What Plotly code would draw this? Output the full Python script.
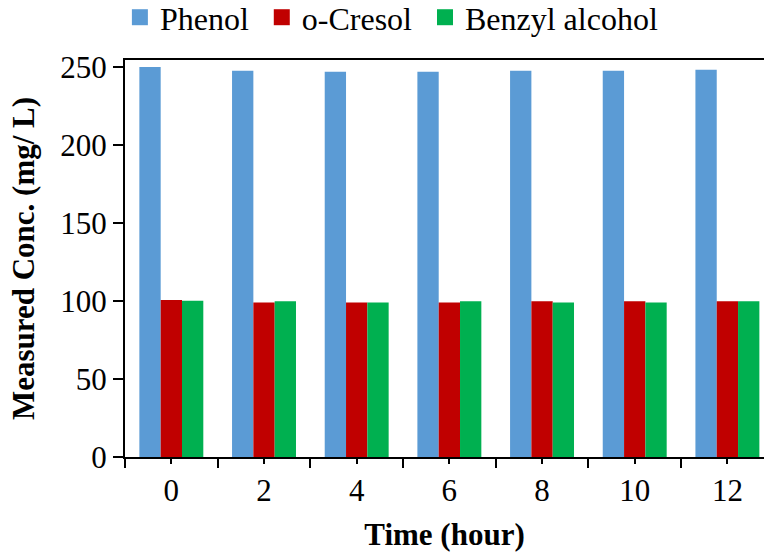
import plotly.graph_objects as go

# Sampling times (hours) and measured concentrations (mg/L)
time_h = [0, 2, 4, 6, 8, 10, 12]
phenol = [250.0, 247.6, 246.9, 246.9, 247.6, 247.6, 248.2]
o_cresol = [100.6, 99.0, 99.0, 99.0, 99.8, 99.8, 99.8]
benzyl_alcohol = [100.2, 99.8, 99.0, 99.8, 99.0, 99.0, 99.8]

series = [
    ("Phenol", phenol, "#5B9BD5"),
    ("o-Cresol", o_cresol, "#C00000"),
    ("Benzyl alcohol", benzyl_alcohol, "#00B050"),
]

FONT = "Liberation Serif, Times New Roman, serif"

fig = go.Figure()
for name, vals, color in series:
    fig.add_trace(go.Bar(
        x=time_h, y=vals, name=name, showlegend=False,
        marker=dict(color=color, line=dict(width=0)),
    ))

# Legend entries with larger square swatches
for name, vals, color in series:
    fig.add_trace(go.Scatter(
        x=[None], y=[None], mode="markers", name=name + "\u00a0",
        marker=dict(symbol="square", size=16, color=color),
        showlegend=True,
    ))

fig.update_layout(
    width=764, height=556,
    margin=dict(l=125, r=0, t=60, b=99, autoexpand=False),
    paper_bgcolor="white", plot_bgcolor="white",
    barmode="group", bargap=0.31, bargroupgap=0,
    font=dict(family=FONT, size=31, color="black"),
    legend=dict(
        orientation="h", x=-0.008, xanchor="left",
        y=1.038, yanchor="bottom", yref="paper",
        font=dict(size=32), itemwidth=30, itemsizing="trace",
        traceorder="normal", bgcolor="rgba(0,0,0,0)",
    ),
    showlegend=True,
)

fig.update_xaxes(
    range=[-1, 12.79],
    tickvals=time_h, ticktext=[str(t) for t in time_h],
    ticks="outside", ticklen=5, tickwidth=2, tickcolor="black",
    minor=dict(tickvals=[-1, 1, 3, 5, 7, 9, 11, 13], ticks="outside",
               ticklen=9, tickwidth=2, tickcolor="black"),
    showline=True, linecolor="black", linewidth=2, mirror=True,
    showgrid=False, zeroline=False,
    tickfont=dict(size=31),
    title=dict(text="<b>Time (hour)</b>", font=dict(size=31), standoff=16),
)

fig.update_yaxes(
    range=[0, 254.5],
    tickvals=[0, 50, 100, 150, 200, 250],
    ticks="outside", ticklen=10, tickwidth=2, tickcolor="black",
    showline=True, linecolor="black", linewidth=2,
    showgrid=False, zeroline=False,
    tickfont=dict(size=31),
    title=dict(text="<b>Measured Conc. (mg/ L)</b>", font=dict(size=31), standoff=16),
)

fig.write_html("out.html")
